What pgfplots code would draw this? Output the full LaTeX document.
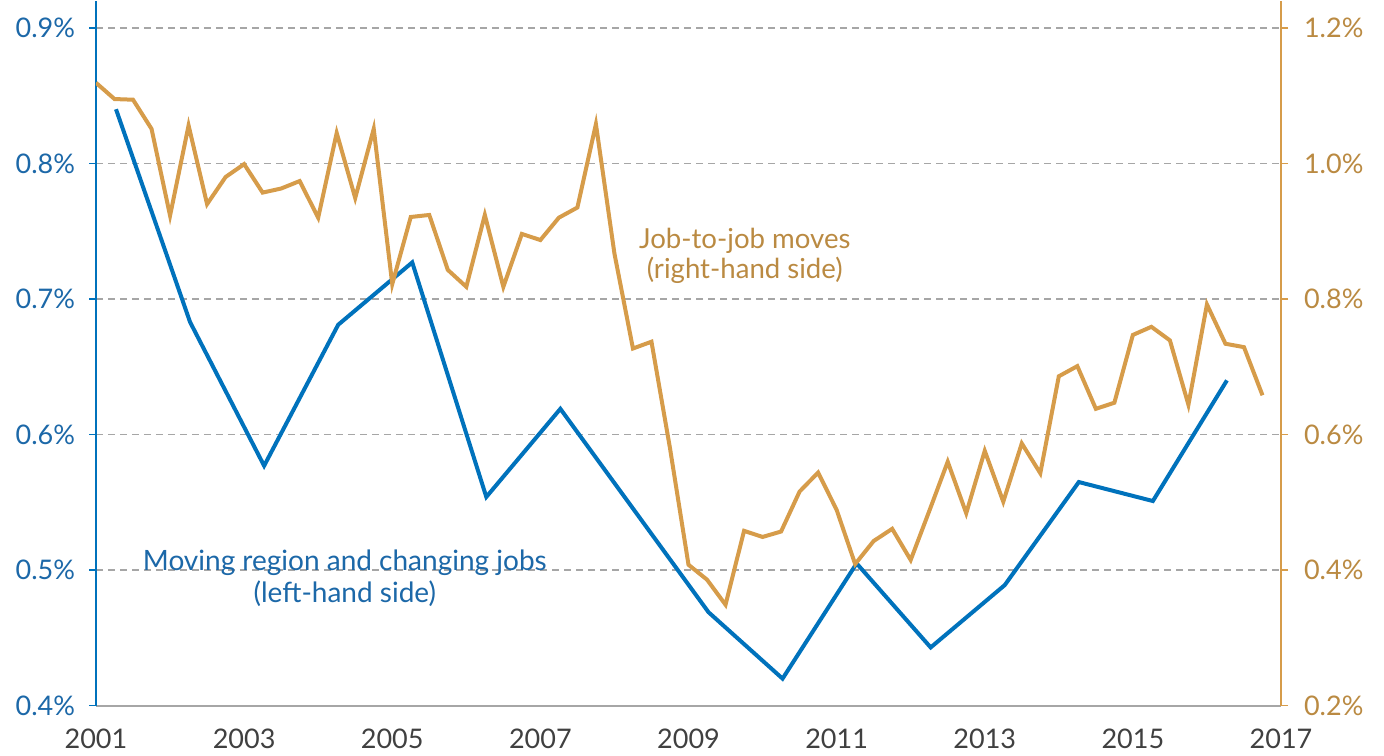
\documentclass[border=0pt]{standalone}
\usepackage{pgfplots}
\pgfplotsset{compat=1.18}
\usepackage{pgfplotstable}
\usepackage{fontspec}
\setmainfont{Lato}

\definecolor{jobblue}{RGB}{0,114,188}
\definecolor{jobgold}{RGB}{214,156,74}
\definecolor{goldtext}{RGB}{186,138,66}
\definecolor{bluetext}{RGB}{28,104,168}
\definecolor{gridgray}{RGB}{166,166,166}
\definecolor{yeargray}{RGB}{64,64,64}

% moving region and changing jobs, left-hand axis (%)
\pgfplotstableread{
year val
2001.27 0.840
2002.27 0.683
2003.27 0.577
2004.27 0.681
2005.27 0.727
2006.27 0.554
2007.27 0.619
2008.27 0.544
2009.27 0.469
2010.27 0.420
2011.27 0.505
2012.27 0.443
2013.27 0.489
2014.27 0.565
2015.27 0.551
2016.27 0.640
}\moving

% job-to-job moves, right-hand axis (%), quarterly
\pgfplotstableread{
year val
2001.00 1.119
2001.25 1.095
2001.50 1.094
2001.75 1.051
2002.00 0.923
2002.25 1.056
2002.50 0.940
2002.75 0.980
2003.00 0.999
2003.25 0.957
2003.50 0.963
2003.75 0.974
2004.00 0.920
2004.25 1.045
2004.50 0.949
2004.75 1.051
2005.00 0.822
2005.25 0.921
2005.50 0.924
2005.75 0.843
2006.00 0.818
2006.25 0.924
2006.50 0.818
2006.75 0.896
2007.00 0.887
2007.25 0.920
2007.50 0.935
2007.75 1.058
2008.00 0.867
2008.25 0.727
2008.50 0.737
2008.75 0.580
2009.00 0.408
2009.25 0.386
2009.50 0.349
2009.75 0.458
2010.00 0.449
2010.25 0.457
2010.50 0.516
2010.75 0.544
2011.00 0.489
2011.25 0.409
2011.50 0.443
2011.75 0.461
2012.00 0.415
2012.25 0.487
2012.50 0.560
2012.75 0.484
2013.00 0.576
2013.25 0.501
2013.50 0.587
2013.75 0.543
2014.00 0.686
2014.25 0.701
2014.50 0.638
2014.75 0.647
2015.00 0.747
2015.25 0.759
2015.50 0.739
2015.75 0.644
2016.00 0.792
2016.25 0.734
2016.50 0.729
2016.75 0.658
}\jobtojob

\begin{document}
\begin{tikzpicture}
\pgfplotsset{
  every axis/.append style={
    width=592.5pt, height=352.5pt, scale only axis,
    xmin=2001, xmax=2017,
    font=\fontsize{13.5}{16}\selectfont,
    tick align=outside,
    major tick length=3.5pt,
  },
}
\begin{axis}[
  name=left,
  ymin=0.4, ymax=0.92,
  axis y line*=left, axis x line*=bottom,
  y axis line style={jobblue, line width=0.75pt},
  x axis line style={gridgray, line width=0.9pt},
  xtick={2001,2003,...,2017},
  xticklabels={2001,2003,2005,2007,2009,2011,2013,2015,2017},
  xtick style={draw=none},
  xticklabel style={text=yeargray, yshift=-4.5pt},
  ytick={0.4,0.5,0.6,0.7,0.8,0.9},
  yticklabels={0.4\%,0.5\%,0.6\%,0.7\%,0.8\%,0.9\%},
  ytick style={jobblue, line width=0.75pt},
  yticklabel style={text=bluetext, xshift=-3.5pt},
  ymajorgrids,
  grid style={gridgray, line width=0.9pt, dash pattern=on 3.5pt off 2.5pt},
  clip=false,
]
\addplot[jobblue, line width=2pt] table[x=year, y=val] {\moving};
\node[align=center, text=goldtext, font=\fontsize{13.8}{15}\selectfont]
  at (axis cs:2009.76,0.732) {Job-to-job moves\\(right-hand side)};
\node[align=center, text=bluetext, font=\fontsize{14}{16}\selectfont]
  at (axis cs:2004.36,0.494) {Moving region and changing jobs\\(left-hand side)};
\end{axis}
\begin{axis}[
  ymin=0.2, ymax=1.24,
  axis y line*=right, axis x line=none,
  y axis line style={jobgold, line width=0.75pt},
  ytick={0.2,0.4,0.6,0.8,1.0,1.2},
  yticklabels={0.2\%,0.4\%,0.6\%,0.8\%,1.0\%,1.2\%},
  ytick style={jobgold, line width=0.75pt},
  yticklabel style={text=goldtext, xshift=4.5pt},
]
\addplot[jobgold, line width=2pt] table[x=year, y=val] {\jobtojob};
\end{axis}
\path ([xshift=-48pt,yshift=-23pt]left.south west) rectangle ([xshift=51.5pt]left.north east);
\end{tikzpicture}
\end{document}
